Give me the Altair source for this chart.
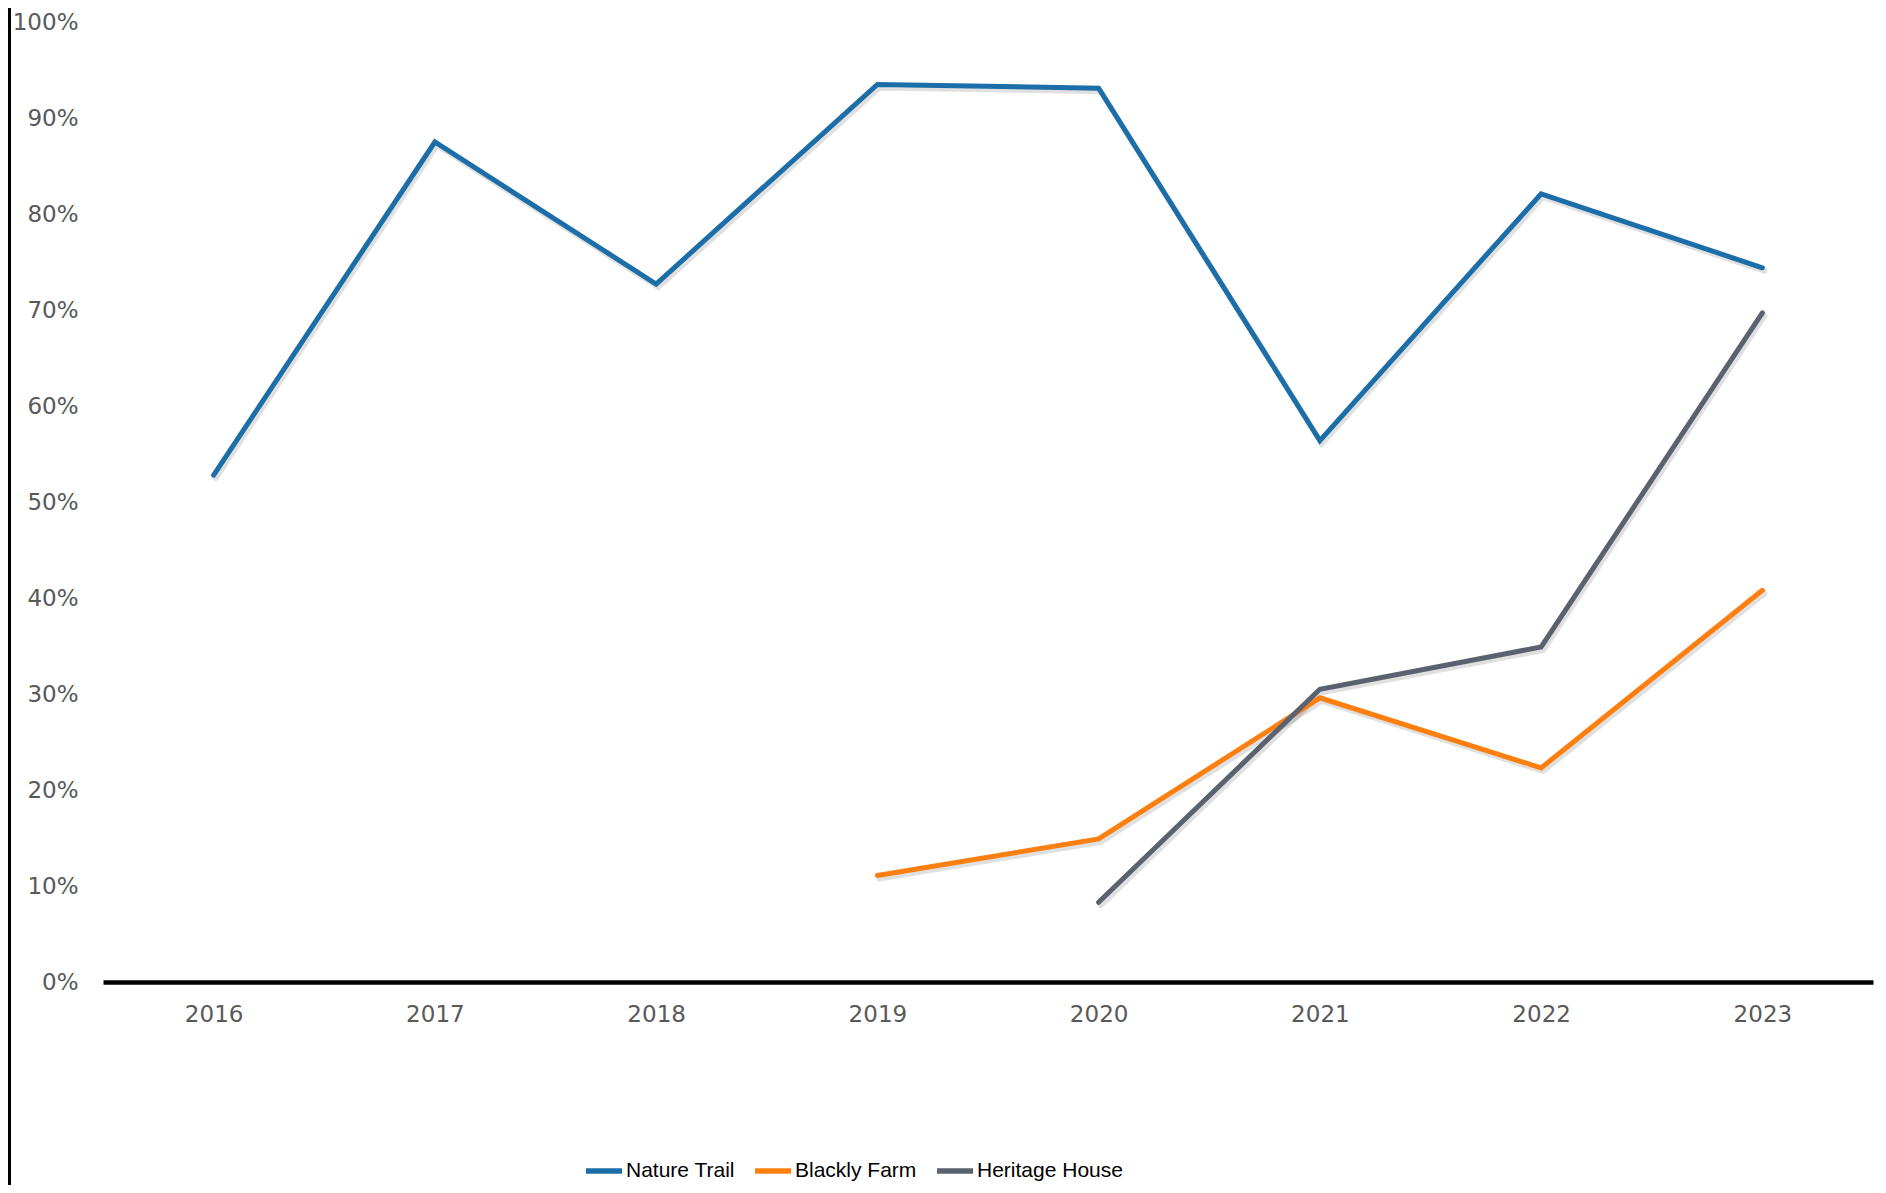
import altair as alt
import pandas as pd

years = ["2016", "2017", "2018", "2019", "2020", "2021", "2022", "2023"]
series_names = ["Nature Trail", "Blackly Farm", "Heritage House"]
nature_trail = [0.528, 0.875, 0.727, 0.935, 0.931, 0.564, 0.821, 0.744]
blackly_farm_years = ["2019", "2020", "2021", "2022", "2023"]
blackly_farm = [0.111, 0.149, 0.296, 0.223, 0.408]
heritage_years = ["2020", "2021", "2022", "2023"]
heritage_house = [0.083, 0.305, 0.349, 0.697]
colors = ["#1C6EA9", "#FD7F10", "#5A6270"]

rows = []
for y, v in zip(years, nature_trail):
    rows.append({"Year": y, "Series": "Nature Trail", "Value": v})
for y, v in zip(blackly_farm_years, blackly_farm):
    rows.append({"Year": y, "Series": "Blackly Farm", "Value": v})
for y, v in zip(heritage_years, heritage_house):
    rows.append({"Year": y, "Series": "Heritage House", "Value": v})
df = pd.DataFrame(rows)

W, H = 1770, 960

x_enc = alt.X("Year:N", sort=years, title=None,
              axis=alt.Axis(labelAngle=0, labelFont="DejaVu Sans", labelFontSize=23,
                            labelColor="#595959", ticks=False, labelPadding=21,
                            domainColor="#000000", domainWidth=4.5, grid=False))
y_enc = alt.Y("Value:Q", title=None,
              scale=alt.Scale(domain=[0, 1], nice=False),
              axis=alt.Axis(format=".0%", values=[i / 10 for i in range(11)],
                            labelFont="DejaVu Sans", labelFontSize=23, labelColor="#595959",
                            ticks=False, domain=False, grid=False, labelPadding=25))

shadow = alt.Chart(df).mark_line(strokeWidth=6, strokeCap="round", strokeJoin="miter",
                                 color="#000000", opacity=0.12, xOffset=2, yOffset=3).encode(
    x=x_enc, y=y_enc, detail="Series:N"
)

lines = alt.Chart(df).mark_line(strokeWidth=5, strokeCap="round", strokeJoin="miter").encode(
    x=x_enc,
    y=y_enc,
    color=alt.Color("Series:N", sort=series_names,
                    scale=alt.Scale(domain=series_names, range=colors),
                    legend=alt.Legend(title=None, orient="none", direction="horizontal",
                                      legendX=480, legendY=1128,
                                      symbolType="stroke", symbolSize=1300,
                                      symbolStrokeWidth=5.5, labelOffset=1,
                                      columnPadding=8, labelLimit=400,
                                      labelFont="Liberation Sans",
                                      labelFontSize=21, labelColor="#000000")),
)

edge = alt.Chart(df).mark_rule(color="#000000", strokeWidth=3).encode(
    x=alt.value(-94), y=alt.value(-20), y2=alt.value(1200)
)

chart = alt.layer(shadow, lines, edge).properties(
    width=W, height=H,
    padding={"left": 95, "top": 14, "right": 5, "bottom": 203},
    autosize=alt.AutoSizeParams(type="none"),
).configure(background="#ffffff").configure_view(stroke=None, strokeWidth=0)

chart.save("out.html", embed_options={"renderer": "svg", "actions": False})
